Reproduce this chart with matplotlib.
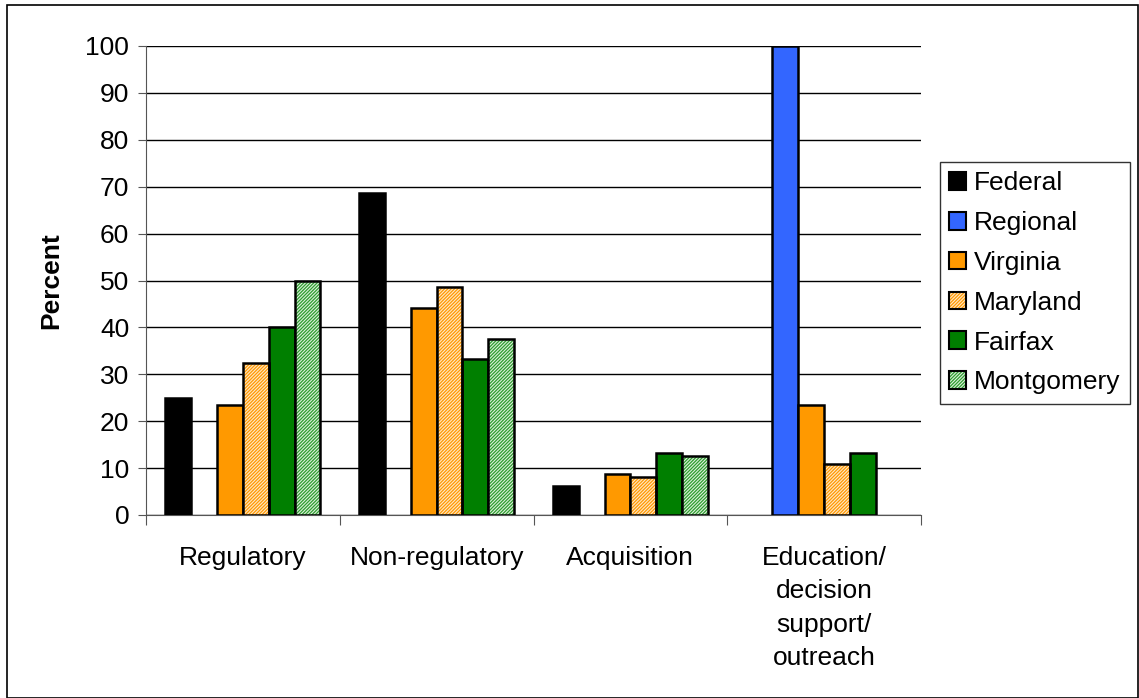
import numpy as np
import matplotlib
matplotlib.use("Agg")
import matplotlib.pyplot as plt
from matplotlib.patches import Patch, Rectangle
from matplotlib.legend_handler import HandlerTuple

categories = ["Regulatory", "Non-regulatory", "Acquisition", "Education/\ndecision\nsupport/\noutreach"]
series = ["Federal", "Regional", "Virginia", "Maryland", "Fairfax", "Montgomery"]
federal = [25.0, 68.75, 6.25, np.nan]
regional = [np.nan, np.nan, np.nan, 100.0]
virginia = [23.5, 44.1, 8.8, 23.5]
maryland = [32.4, 48.6, 8.1, 10.8]
fairfax = [40.0, 33.3, 13.3, 13.3]
montgomery = [50.0, 37.5, 12.5, np.nan]
values = [federal, regional, virginia, maryland, fairfax, montgomery]

faces = ["#000000", "#3366FF", "#FF9900", "#FFE8C8", "#007F00", "#DDF0DD"]
hatches = [None, None, None, "//////////", None, "//////////"]
hatchcols = [None, None, None, "#FF9900", None, "#2E9E2E"]

plt.rcParams['font.family'] = ['Liberation Sans', 'DejaVu Sans']
plt.rcParams['hatch.linewidth'] = 0.9

FS = 19

fig = plt.figure(figsize=(11.39, 6.98), dpi=100)
ax = fig.add_axes([146/1139, 1 - 515/698, (921-146)/1139, (515-46)/698])

x = np.arange(len(categories))
w = 0.8 / 6
handles = []
for i, (name, vals) in enumerate(zip(series, values)):
    pos = x - 0.4 + w * (i + 0.5)
    v = np.array(vals, dtype=float)
    if hatches[i]:
        ax.bar(pos, v, w, color=faces[i], edgecolor=hatchcols[i], hatch=hatches[i], linewidth=0, zorder=3)
        ax.bar(pos, v, w, fill=False, edgecolor="black", linewidth=1.8, zorder=4)
        h1 = Patch(facecolor=faces[i], edgecolor=hatchcols[i], hatch=hatches[i], linewidth=0)
        h2 = Patch(fill=False, edgecolor="black", linewidth=1.5)
        handles.append((h1, h2))
    else:
        ax.bar(pos, v, w, color=faces[i], edgecolor="black", linewidth=1.8, zorder=3)
        handles.append(Patch(facecolor=faces[i], edgecolor="black", linewidth=1.5))

ax.set_xlim(-0.5, len(categories) - 0.5)
ax.set_ylim(0, 100)
ax.set_yticks(np.arange(0, 101, 10))
ax.yaxis.grid(True, color="black", linewidth=1.0, zorder=0)
ax.set_axisbelow(True)
for s in ["top", "right"]:
    ax.spines[s].set_visible(False)
ax.spines["left"].set_color("#555555")
ax.spines["bottom"].set_color("#555555")
ax.tick_params(axis="y", labelsize=FS, length=6, color="#555555", pad=6)
ax.set_xticks(np.arange(-0.5, len(categories), 1.0))
ax.set_xticklabels([])
ax.tick_params(axis="x", length=7, color="#555555")
ax.set_xticks(x, minor=True)
ax.set_xticklabels(categories, minor=True, fontsize=FS, linespacing=1.5, va="top")
ax.tick_params(axis="x", which="minor", length=0, pad=22)
ax.set_ylabel("Percent", fontsize=FS, fontweight="bold", labelpad=16)

leg = fig.legend(handles, series, loc="upper left", bbox_to_anchor=(940/1139, 1 - 162/698),
                 fontsize=FS, frameon=True, fancybox=False, edgecolor="black",
                 handlelength=0.65, handleheight=0.65, handletextpad=0.3, labelspacing=0.6,
                 borderpad=0.35, borderaxespad=0,
                 handler_map={tuple: HandlerTuple(ndivide=1, pad=0)})
leg.get_frame().set_linewidth(1.0)

fig.patches.append(Rectangle((7/1139, 0.0), 1 - 7/1139 - 0.0005, 1 - 5/698, transform=fig.transFigure,
                             fill=False, edgecolor="black", linewidth=1.2))

fig.savefig("out.png", dpi=100)
